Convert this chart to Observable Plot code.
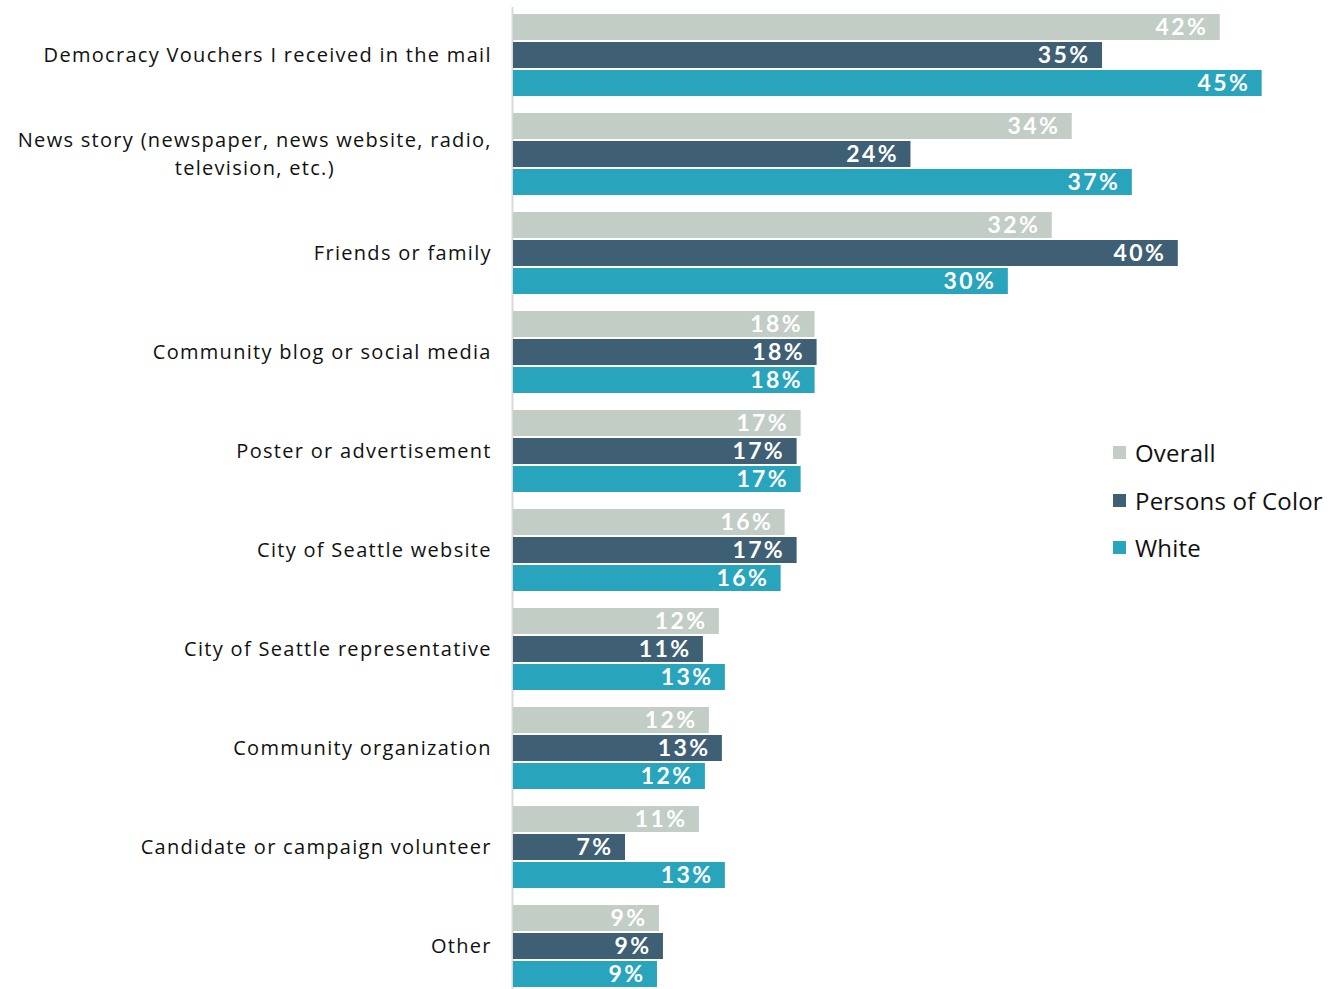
<!DOCTYPE html>
<html>
<head>
<meta charset="utf-8">
<script src="https://cdn.jsdelivr.net/npm/d3@7"></script>
<script src="https://cdn.jsdelivr.net/npm/@observablehq/plot@0.6"></script>
<style>
  html, body { margin: 0; padding: 0; background: #fff; }
  #wrap { position: relative; width: 1336px; height: 989px; font-family: "Open Sans", Lato, sans-serif; }
  #legend { position: absolute; left: 1113px; top: 429px; }
  .item { display: flex; align-items: center; height: 47.5px; font-size: 24px; color: #111; letter-spacing: 0.2px; }
  .sw { width: 13px; height: 13px; margin-right: 9px; }
  #wrap svg g[font-family^="'Open Sans'"] { letter-spacing: 1.3px; }
  #wrap svg g[font-weight="bold"] { letter-spacing: 2.4px; }
</style>
</head>
<body>
<div id="wrap"></div>
<script>
const categories = [
  "Democracy Vouchers I received in the mail",
  "News story (newspaper, news website, radio,\ntelevision, etc.)",
  "Friends or family",
  "Community blog or social media",
  "Poster or advertisement",
  "City of Seattle website",
  "City of Seattle representative",
  "Community organization",
  "Candidate or campaign volunteer",
  "Other"
];
const series = ["Overall", "Persons of Color", "White"];
const colors = ["#c2cdc6", "#3f5f75", "#29a4bd"];
const overall = [42.46, 33.57, 32.37, 18.12, 17.28, 16.32, 12.37, 11.77, 11.17, 8.77];
const personsOfColor = [35.39, 23.88, 39.94, 18.24, 17.04, 17.04, 11.41, 12.55, 6.73, 9.01];
const white = [44.98, 37.18, 29.73, 18.12, 17.28, 16.08, 12.73, 11.53, 12.73, 8.65];

const valuesBySeries = [overall, personsOfColor, white];
const rows = [];
series.forEach((s, i) => {
  categories.forEach((c, j) => rows.push({category: c, series: s, si: i, value: valuesBySeries[i][j]}));
});

const labelSpacing = 1.3;
// measure label line widths with an SVG text element using the same font styles
const tmp = d3.select("body").append("svg").attr("width", 10).attr("height", 10)
  .style("position", "absolute").style("visibility", "hidden");
const tmpText = tmp.append("text").attr("font-family", "'Open Sans', sans-serif")
  .attr("font-size", 20).style("letter-spacing", labelSpacing + "px");
const lineWidth = t => { tmpText.text(t); return tmpText.node().getComputedTextLength(); };
const blockWidth = c => d3.max(c.split("\n"), lineWidth);

const step = 28;
const gap = 23;
const marks = [
  Plot.ruleX([0], {stroke: "#d9d9d9", strokeWidth: 2, dx: -1})
];
series.forEach((s, i) => {
  const d = rows.filter(r => r.si === i);
  marks.push(Plot.barX(d, {
    x: "value", y: "category", fill: colors[i],
    insetTop: i * step, insetBottom: (2 - i) * step
  }));
  marks.push(Plot.text(d, {
    x: "value", y: "category", text: r => Math.round(r.value) + "%",
    textAnchor: "end", dx: -12, dy: (i - 1) * step,
    fill: "#fff", fontSize: 23, fontWeight: "bold",
    fontFamily: "Lato, sans-serif"
  }));
});
const single = categories.filter(c => !c.includes("\n"));
const multi = categories.filter(c => c.includes("\n"));
const labelStyle = {fill: "#111", fontSize: 20, lineHeight: 1.4, dy: -2, fontFamily: "'Open Sans', sans-serif"};
marks.push(Plot.text(single, {x: 0, y: d => d, text: d => d, textAnchor: "end", dx: -gap + labelSpacing, ...labelStyle}));
multi.forEach(c => {
  marks.push(Plot.text([c], {x: 0, y: d => d, text: d => d, textAnchor: "middle",
    dx: -gap + labelSpacing - blockWidth(c) / 2, ...labelStyle}));
});
tmp.remove();

const chart = Plot.plot({
  width: 1336,
  height: 989,
  marginTop: 7,
  marginBottom: 0,
  marginLeft: 513,
  marginRight: 0,
  style: {fontFamily: "'Open Sans', sans-serif", background: "#fff", overflow: "visible"},
  x: {domain: [0, 45], range: [513, 1262], axis: null},
  y: {domain: categories, range: [14, 987], paddingInner: 17 / 99, paddingOuter: 0, axis: null},
  marks
});
const wrap = document.getElementById("wrap");
wrap.appendChild(chart);

const legend = d3.select(wrap).append("div").attr("id", "legend");
series.forEach((s, i) => {
  const it = legend.append("div").attr("class", "item");
  it.append("div").attr("class", "sw").style("background", colors[i]);
  it.append("span").text(s);
});
</script>
</body>
</html>
